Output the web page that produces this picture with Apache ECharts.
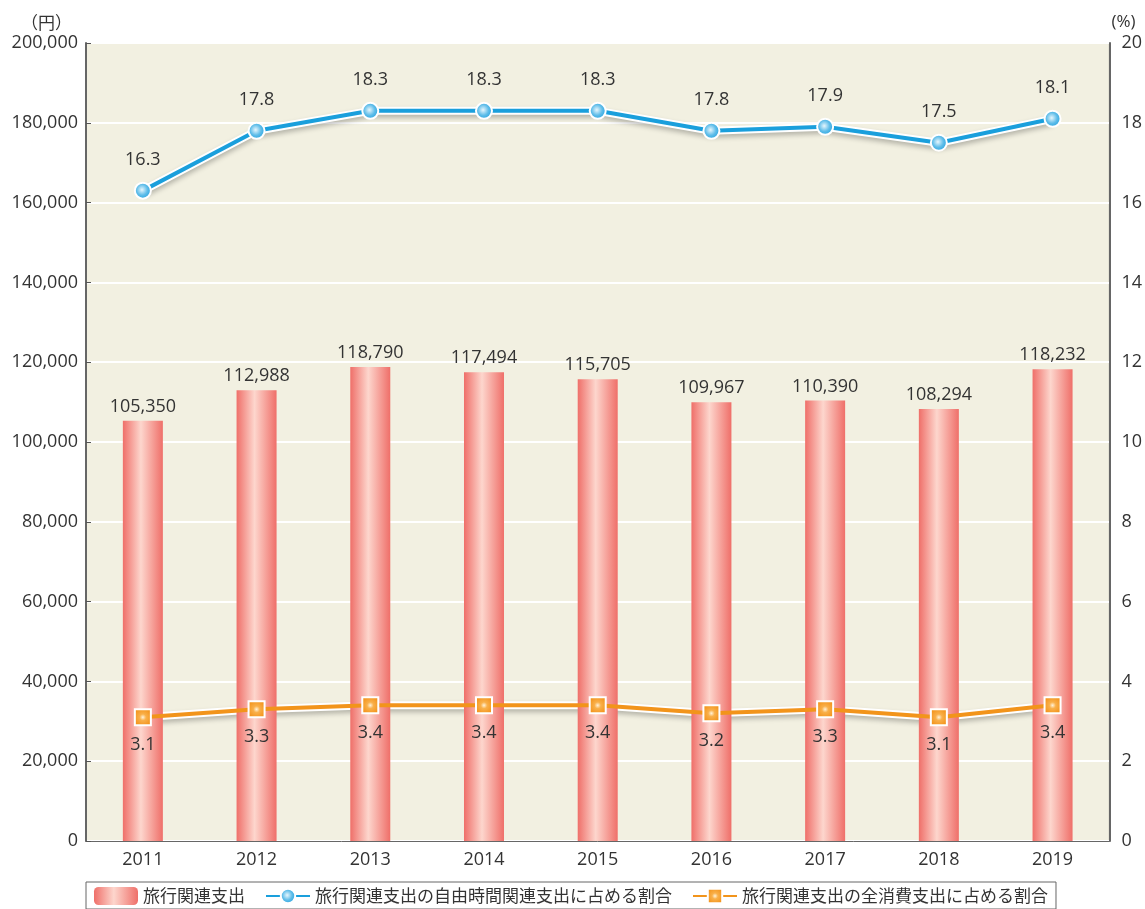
<!DOCTYPE html>
<html>
<head>
<meta charset="utf-8">
<script src="https://cdn.jsdelivr.net/npm/echarts@6/dist/echarts.min.js"></script>
<style>
html, body { margin: 0; padding: 0; background: #fff; }
#chart { width: 1145px; height: 909px; }
</style>
</head>
<body>
<div id="chart"></div>
<script>
// 年
var years = ['2011', '2012', '2013', '2014', '2015', '2016', '2017', '2018', '2019'];
// 旅行関連支出（円）
var travelSpend = [105350, 112988, 118790, 117494, 115705, 109967, 110390, 108294, 118232];
// 自由時間関連支出に占める割合（%）
var freeTimeShare = [16.3, 17.8, 18.3, 18.3, 18.3, 17.8, 17.9, 17.5, 18.1];
// 全消費支出に占める割合（%）
var totalShare = [3.1, 3.3, 3.4, 3.4, 3.4, 3.2, 3.3, 3.1, 3.4];

var names = ['旅行関連支出', '旅行関連支出の自由時間関連支出に占める割合', '旅行関連支出の全消費支出に占める割合'];

var numFont = '"Open Sans", "Noto Sans", sans-serif';
var jpFont = '"Noto Sans CJK JP", sans-serif';

var barColor = new echarts.graphic.LinearGradient(0, 0, 1, 0, [
    { offset: 0, color: '#ef6f69' },
    { offset: 0.45, color: '#fdd6cd' },
    { offset: 1, color: '#ef6f69' }
]);
var blueDot = new echarts.graphic.RadialGradient(0.45, 0.45, 0.6, [
    { offset: 0, color: '#e6f6fd' },
    { offset: 0.5, color: '#5fbde9' },
    { offset: 1, color: '#1b9ede' }
]);
var orangeDot = new echarts.graphic.RadialGradient(0.5, 0.5, 0.6, [
    { offset: 0, color: '#fff2d8' },
    { offset: 0.3, color: '#f9b04a' },
    { offset: 1, color: '#f18c0f' }
]);

// 白い縁取り用の下地線
var underlay = function (data) {
    return {
        type: 'line',
        yAxisIndex: 1,
        data: data,
        symbol: 'none',
        silent: true,
        z: 1,
        lineStyle: { color: '#ffffff', width: 8, shadowColor: 'rgba(0,0,0,0.25)', shadowBlur: 5, shadowOffsetY: 3 },
        tooltip: { show: false }
    };
};

var chart = echarts.init(document.getElementById('chart'));

var option = {
    animation: false,
    backgroundColor: '#ffffff',
    textStyle: { fontFamily: numFont },
    grid: {
        left: 86,
        right: 34,
        top: 43,
        bottom: 68,
        show: true,
        backgroundColor: '#f2f0e1',
        borderColor: '#666',
        borderWidth: 1
    },
    legend: {
        left: 86,
        bottom: 0,
        itemWidth: 44,
        itemHeight: 18,
        itemGap: 20,
        padding: [5, 8, 4, 8],
        borderColor: '#666',
        borderWidth: 1,
        textStyle: { fontFamily: jpFont, fontSize: 17, color: '#333' },
        data: names
    },
    xAxis: {
        type: 'category',
        data: years,
        axisLine: { lineStyle: { color: '#666' } },
        axisTick: { show: false },
        axisLabel: { fontSize: 18, color: '#333', margin: 10 }
    },
    yAxis: [{
        type: 'value',
        min: 0,
        max: 200000,
        interval: 20000,
        name: '（円）',
        nameGap: 12,
        nameTextStyle: { fontFamily: jpFont, fontSize: 17, color: '#333', align: 'right', padding: [0, 14, 0, 0] },
        axisLine: { show: true, lineStyle: { color: '#666', width: 2 } },
        axisTick: { show: true, inside: true, length: 5, lineStyle: { color: '#555' } },
        splitLine: { lineStyle: { color: '#ffffff', width: 2 } },
        axisLabel: {
            fontSize: 18,
            color: '#333',
            margin: 8,
            formatter: function (v) { return v.toLocaleString('en-US'); }
        }
    }, {
        type: 'value',
        min: 0,
        max: 20,
        interval: 2,
        name: '(%)',
        nameGap: 12,
        nameTextStyle: { fontSize: 17, color: '#333', align: 'left', padding: [0, 0, 0, 2] },
        axisLine: { show: true, lineStyle: { color: '#666', width: 2 } },
        axisTick: { show: false },
        splitLine: { show: false },
        axisLabel: { fontSize: 18, color: '#333', margin: 12 }
    }],
    series: [{
        name: names[0],
        type: 'bar',
        data: travelSpend,
        barWidth: 40,
        itemStyle: { color: barColor },
        label: {
            show: true,
            position: 'top',
            distance: 5,
            fontSize: 18,
            color: '#333',
            formatter: function (p) { return p.value.toLocaleString('en-US'); }
        }
    },
    underlay(freeTimeShare),
    underlay(totalShare),
    {
        name: names[1],
        type: 'line',
        yAxisIndex: 1,
        z: 3,
        data: freeTimeShare,
        symbol: 'circle',
        symbolSize: 16,
        lineStyle: { color: '#1a9fdc', width: 4 },
        itemStyle: { color: blueDot, borderColor: '#ffffff', borderWidth: 2 },
        label: {
            show: true,
            position: 'top',
            distance: 13,
            fontSize: 18,
            color: '#333',
            formatter: function (p) { return p.value.toFixed(1); }
        }
    }, {
        name: names[2],
        type: 'line',
        yAxisIndex: 1,
        z: 3,
        data: totalShare,
        symbol: 'rect',
        symbolSize: 16,
        lineStyle: { color: '#f2941b', width: 4 },
        itemStyle: { color: orangeDot, borderColor: '#ffffff', borderWidth: 2 },
        label: {
            show: true,
            position: 'bottom',
            distance: 10,
            fontSize: 18,
            color: '#333',
            formatter: function (p) { return p.value.toFixed(1); }
        }
    }]
};

chart.setOption(option);
</script>
</body>
</html>
